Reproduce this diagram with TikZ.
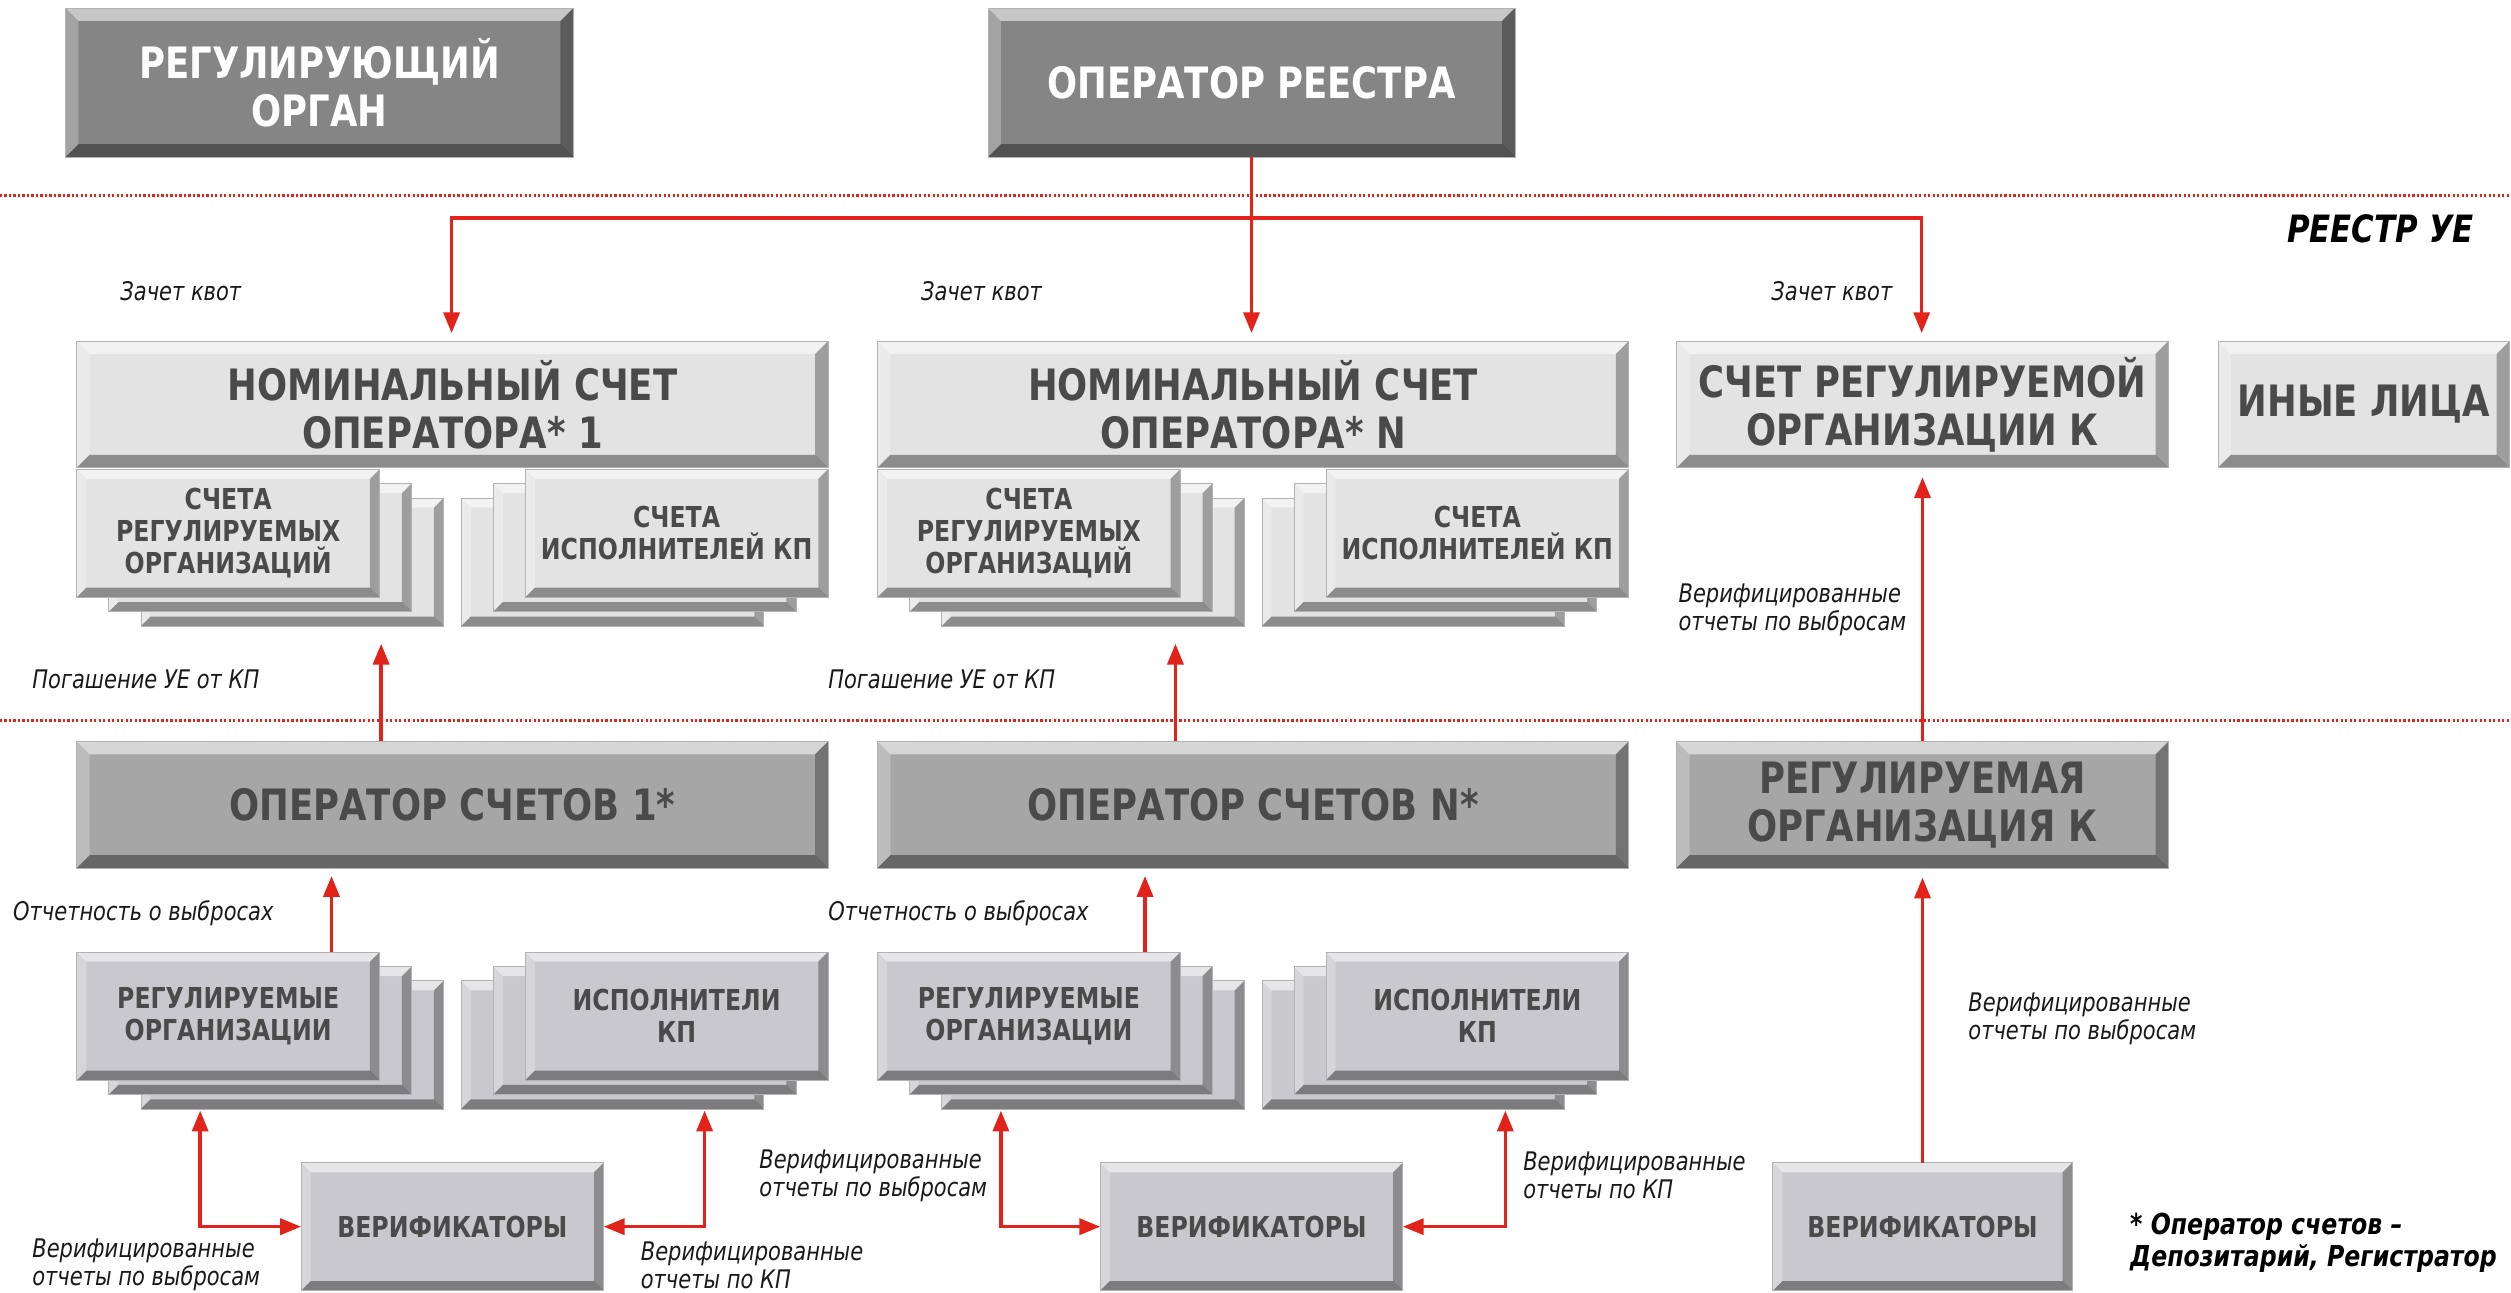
\documentclass[tikz,border=0pt]{standalone}
\usepackage{fontspec}
\newfontfamily\bx[FakeStretch=0.82]{DejaVu Sans}
\usetikzlibrary{arrows.meta}
\definecolor{redl}{HTML}{E2231A}
\definecolor{dkbox}{HTML}{858585}
\definecolor{ltbox}{HTML}{E3E3E3}
\definecolor{mdbox}{HTML}{A6A6A6}
\definecolor{smbox}{HTML}{C9C9CD}
\definecolor{txt}{HTML}{4A4A4A}
\def\bvw{8pt}
\tikzset{
  bevpic/.style={path picture={
    \coordinate (@sw) at (path picture bounding box.south west);
    \coordinate (@ne) at (path picture bounding box.north east);
    \coordinate (@nw) at (path picture bounding box.north west);
    \coordinate (@se) at (path picture bounding box.south east);
    \fill[white,opacity=.55] (@nw) -- (@ne) -- ([shift={(-\bvw,-\bvw)}]@ne) -- ([shift={(\bvw,-\bvw)}]@nw) -- cycle;
    \fill[white,opacity=.25] (@nw) -- (@sw) -- ([shift={(\bvw,\bvw)}]@sw) -- ([shift={(\bvw,-\bvw)}]@nw) -- cycle;
    \fill[black,opacity=.30] (@ne) -- (@se) -- ([shift={(-\bvw,\bvw)}]@se) -- ([shift={(-\bvw,-\bvw)}]@ne) -- cycle;
    \fill[black,opacity=.38] (@sw) -- (@se) -- ([shift={(-\bvw,\bvw)}]@se) -- ([shift={(\bvw,\bvw)}]@sw) -- cycle;
  }},
  bev/.style={/utils/exec={\def\bvw{#1}}, bevpic},
  bev/.default=8pt,
  sz/.style 2 args={minimum width=#1pt, minimum height=#2pt},
  base/.style={inner sep=0pt, outer sep=0pt, align=center, draw=black!30, line width=0.5pt},
  bigt/.style={font=\bx\bfseries\fontsize{27}{30}\selectfont},
  smt/.style={font=\bx\bfseries\fontsize{18}{20}\selectfont},
  darkbox/.style={base, bev, fill=dkbox, text=white, bigt},
  lightbox/.style={base, bev, fill=ltbox, text=txt, bigt},
  subbox/.style={base, bev=6pt, fill=ltbox, text=txt, smt, sz={189}{80}},
  midbox/.style={base, bev, fill=mdbox, text=txt, bigt},
  grbox/.style={base, bev=6pt, fill=smbox, text=txt, smt, sz={189}{80}},
  lbl/.style={font=\bx\itshape\fontsize{16}{17.5}\selectfont, anchor=west, align=left, inner sep=0pt, text=black!90},
  ra/.style={draw=redl, line width=2.2pt, -{Triangle[length=13pt,width=10pt]}},
  rb/.style={draw=redl, line width=2.2pt, {Triangle[length=13pt,width=10pt]}-{Triangle[length=13pt,width=10pt]}},
  dotl/.style={draw=redl, line width=2pt, dash pattern=on 1.4pt off 1.4pt},
}
\begin{document}
\begin{tikzpicture}[x=1pt,y=-1pt]
\useasboundingbox (0,0) rectangle (1568,807);
\draw[dotl] (0,122) -- (1568,122);
\draw[dotl] (0,450) -- (1568,450);

% top row
\node[darkbox, sz={317}{93}] (reg) at (199.5,51.5) {РЕГУЛИРУЮЩИЙ\\ОРГАН};
\node[darkbox, sz={329}{93}] (oper) at (781.5,51.5) {ОПЕРАТОР РЕЕСТРА};

% row 2
\node[lightbox, sz={469}{79}] (nom1) at (282.5,252.5) {НОМИНАЛЬНЫЙ СЧЕТ\\ОПЕРАТОРА* 1};
\node[lightbox, sz={469}{79}] (nomN) at (782.5,252.5) {НОМИНАЛЬНЫЙ СЧЕТ\\ОПЕРАТОРА* N};
\node[lightbox, sz={307}{79}] (accK) at (1200.5,252.5) {СЧЕТ РЕГУЛИРУЕМОЙ\\ОРГАНИЗАЦИИ К};
\node[lightbox, sz={182}{79}] (other) at (1476,252.5) {ИНЫЕ ЛИЦА};

\node[subbox] (sa3) at (182.5,351) {};
\node[subbox] (sa2) at (162.5,342) {};
\node[subbox] (sa1) at (142.5,333) {СЧЕТА\\РЕГУЛИРУЕМЫХ\\ОРГАНИЗАЦИЙ};
\node[subbox] (sb3) at (382.5,351) {};
\node[subbox] (sb2) at (402.5,342) {};
\node[subbox] (sb1) at (422.5,333) {СЧЕТА\\ИСПОЛНИТЕЛЕЙ КП};

\node[subbox] (saN3) at (682.5,351) {};
\node[subbox] (saN2) at (662.5,342) {};
\node[subbox] (saN1) at (642.5,333) {СЧЕТА\\РЕГУЛИРУЕМЫХ\\ОРГАНИЗАЦИЙ};
\node[subbox] (sbN3) at (882.5,351) {};
\node[subbox] (sbN2) at (902.5,342) {};
\node[subbox] (sbN1) at (922.5,333) {СЧЕТА\\ИСПОЛНИТЕЛЕЙ КП};

% row 3
\node[midbox, sz={469}{79}] (ops1) at (282.5,502.5) {ОПЕРАТОР СЧЕТОВ 1*};
\node[midbox, sz={469}{79}] (opsN) at (782.5,502.5) {ОПЕРАТОР СЧЕТОВ N*};
\node[midbox, sz={307}{79}] (regK) at (1200.5,502.5) {РЕГУЛИРУЕМАЯ\\ОРГАНИЗАЦИЯ К};

% row 4
\node[grbox] (ro3) at (182.5,652.5) {};
\node[grbox] (ro2) at (162.5,643.5) {};
\node[grbox] (ro1) at (142.5,634.5) {РЕГУЛИРУЕМЫЕ\\ОРГАНИЗАЦИИ};
\node[grbox] (ik3) at (382.5,652.5) {};
\node[grbox] (ik2) at (402.5,643.5) {};
\node[grbox] (ik1) at (422.5,634.5) {ИСПОЛНИТЕЛИ\\КП};

\node[grbox] (roN3) at (682.5,652.5) {};
\node[grbox] (roN2) at (662.5,643.5) {};
\node[grbox] (roN1) at (642.5,634.5) {РЕГУЛИРУЕМЫЕ\\ОРГАНИЗАЦИИ};
\node[grbox] (ikN3) at (882.5,652.5) {};
\node[grbox] (ikN2) at (902.5,643.5) {};
\node[grbox] (ikN1) at (922.5,634.5) {ИСПОЛНИТЕЛИ\\КП};

\node[grbox] (ver1) at (282.5,766) {ВЕРИФИКАТОРЫ};
\node[grbox] (verN) at (781.5,766) {ВЕРИФИКАТОРЫ};
\node[grbox, sz={187}{80}] (verK) at (1200.5,766) {ВЕРИФИКАТОРЫ};

% arrows
\coordinate (j) at (oper.south |- 0,136);
\draw[ra, shorten >=5pt] (j) -| ([xshift=-0.5pt]nom1.north);
\draw[ra, shorten >=5pt] (j) -| ([xshift=-0.5pt]accK.north);
\draw[ra, shorten >=5pt] (oper.south) -- (oper.south |- nomN.north);

\draw[ra, shorten >=11pt] ([xshift=-44.5pt]ops1.north) -- ([xshift=-44.5pt]ops1.north |- sa3.south);
\draw[ra, shorten >=11pt] ([xshift=-48.5pt]opsN.north) -- ([xshift=-48.5pt]opsN.north |- saN3.south);

\draw[ra, shorten >=5pt] ([xshift=64.5pt]ro1.north) -- ([xshift=64.5pt]ro1.north |- ops1.south);
\draw[ra, shorten >=5pt] ([xshift=72.5pt]roN1.north) -- ([xshift=72.5pt]roN1.north |- opsN.south);

\draw[rb, shorten <=1pt] ([xshift=-57.5pt]ro3.south) |- (ver1.west);
\draw[rb, shorten <=1pt] ([xshift=57.5pt]ik3.south) |- (ver1.east);
\draw[rb, shorten <=1pt] ([xshift=-57.5pt]roN3.south) |- (verN.west);
\draw[rb, shorten <=1pt] ([xshift=57.5pt]ikN3.south) |- (verN.east);

\draw[ra, shorten >=6pt] (regK.north) -- (accK.south);
\draw[ra, shorten >=6pt] (verK.north) -- (regK.south);

% labels
\node[font=\bx\bfseries\itshape\fontsize{23.5}{26}\selectfont, anchor=east, inner sep=0pt] (reestr) at (1545,143) {РЕЕСТР УЕ};
\node[lbl] (z1) at (75,182) {Зачет квот};
\node[lbl] (z2) at (575,182) {Зачет квот};
\node[lbl] (z3) at (1106,182) {Зачет квот};
\node[lbl] (p1) at (20,424) {Погашение УЕ от КП};
\node[lbl] (p2) at (517,424) {Погашение УЕ от КП};
\node[lbl] (o1) at (8,570) {Отчетность о выбросах};
\node[lbl] (o2) at (517,570) {Отчетность о выбросах};
\node[lbl] (vk1) at (1048,381) {Верифицированные\\отчеты по выбросам};
\node[lbl] (vk2) at (1229,636) {Верифицированные\\отчеты по выбросам};
\node[lbl] (v1) at (20,790) {Верифицированные\\отчеты по выбросам};
\node[lbl] (v2) at (400,790) {Верифицированные\\отчеты по КП};
\node[lbl] (v3) at (474,734) {Верифицированные\\отчеты по выбросам};
\node[lbl] (v4) at (951,734) {Верифицированные\\отчеты по КП};
\node[font=\bx\bfseries\itshape\fontsize{18}{20}\selectfont, anchor=west, align=left, inner sep=0pt] (fn) at (1330,776) {* Оператор счетов –\\Депозитарий, Регистратор};
\end{tikzpicture}
\end{document}
